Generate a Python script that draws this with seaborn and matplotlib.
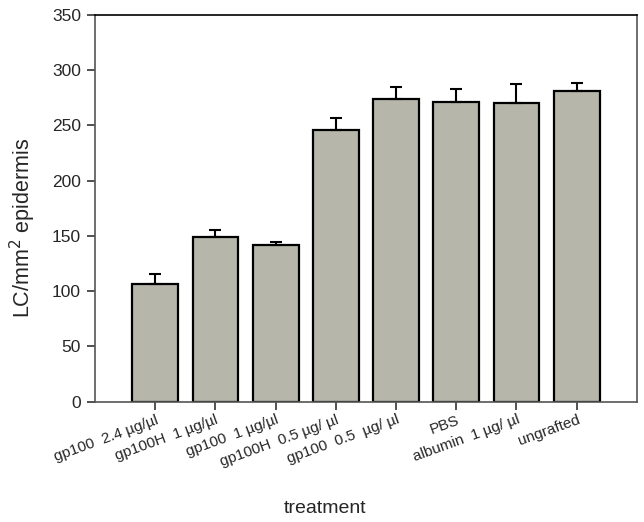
#!/usr/bin/env python3
"""LC density per treatment, bar chart with upward error bars."""

import matplotlib

matplotlib.use("Agg")
import matplotlib.pyplot as plt
import numpy as np
import pandas as pd
import seaborn as sns

treatments = [
    "gp100  2.4 µg/µl",
    "gp100H  1 µg/µl",
    "gp100  1 µg/µl",
    "gp100H  0.5 µg/ µl",
    "gp100  0.5  µg/ µl",
    "PBS",
    "albumin  1 µg/ µl",
    "ungrafted",
]
lc_density = [106.5, 149, 141.5, 245.5, 274, 271.5, 270.5, 281]
lc_error = [9, 6, 3, 11.5, 10.5, 11.5, 17, 7]
y_ticks = [0, 50, 100, 150, 200, 250, 300, 350]


def main() -> None:
    sns.set_theme(style="white")
    plt.rcParams["font.family"] = ["Liberation Sans", "DejaVu Sans"]
    plt.rcParams["xtick.bottom"] = True
    plt.rcParams["ytick.left"] = True

    df = pd.DataFrame({"treatment": treatments, "lc": lc_density, "err": lc_error})

    fig = plt.figure(figsize=(6.44, 5.22), dpi=100)
    ax = fig.add_axes([0.1475, 0.2305, 0.8415, 0.7413])

    sns.barplot(data=df, x="treatment", y="lc", color="#b6b6aa", saturation=1,
                width=0.76, edgecolor="black", linewidth=1.6, errorbar=None, ax=ax)
    xs = np.arange(len(treatments))
    ax.errorbar(xs, df["lc"], yerr=[np.zeros(len(xs)), df["err"]], fmt="none",
                ecolor="black", elinewidth=1.5, capsize=4.5, capthick=1.5, zorder=1)

    ax.set_xlim(-1, len(treatments))
    ax.set_ylim(0, 350)
    ax.set_yticks(y_ticks)
    ax.set_xticks(xs)
    ax.set_xticklabels(treatments, rotation=20, ha="right", rotation_mode="anchor", fontsize=11)
    ax.tick_params(axis="both", which="major", direction="out", left=True, bottom=True,
                   right=False, top=False, length=6, width=1.2, color="#333333")
    ax.tick_params(axis="y", labelsize=12.5, pad=4)
    ax.tick_params(axis="x", pad=2)

    for side in ("left", "bottom", "right"):
        ax.spines[side].set_color("#555555")
        ax.spines[side].set_linewidth(1.2)
    ax.spines["top"].set_color("black")
    ax.spines["top"].set_linewidth(1.2)

    ax.set_xlabel("")
    ax.set_ylabel("")
    fig.text(0.035, 0.563, "LC/mm$^2$ epidermis", rotation=90, ha="center", va="center", fontsize=15.5)
    fig.text(0.505, 0.025, "treatment", ha="center", va="center", fontsize=14)

    fig.savefig("out.png", dpi=100)
    plt.close(fig)


if __name__ == "__main__":
    main()
